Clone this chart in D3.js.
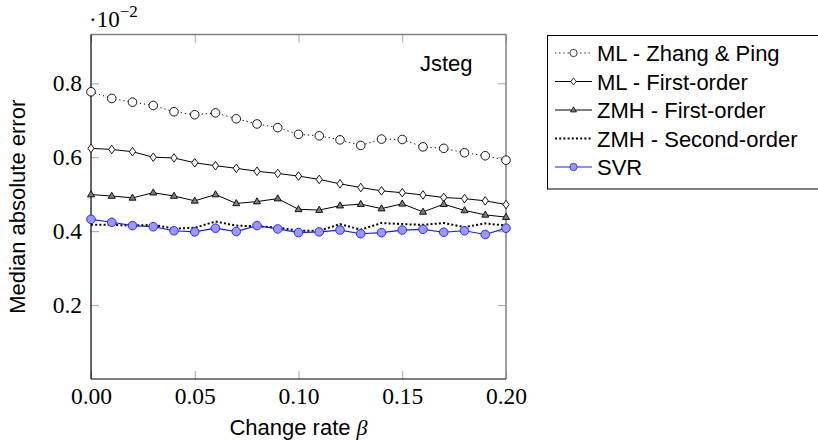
<!DOCTYPE html>
<html>
<head>
<meta charset="utf-8">
<script src="https://cdn.jsdelivr.net/npm/d3@7"></script>
<style>
  body { margin: 0; background: #fff; }
  svg { display: block; }
</style>
</head>
<body>
<div id="chart"></div>
<script>
let w = 818;
let h = 441;

// data (values in units of 10^-2)
let beta = [0.00,0.01,0.02,0.03,0.04,0.05,0.06,0.07,0.08,0.09,0.10,
            0.11,0.12,0.13,0.14,0.15,0.16,0.17,0.18,0.19,0.20];
let zhangPing = [0.777,0.759,0.749,0.740,0.723,0.715,0.720,0.704,0.690,0.680,0.662,
                 0.658,0.647,0.632,0.649,0.648,0.628,0.624,0.612,0.604,0.592];
let mlFirst = [0.624,0.621,0.615,0.600,0.598,0.585,0.577,0.570,0.562,0.556,0.549,
               0.540,0.528,0.518,0.509,0.504,0.498,0.491,0.488,0.482,0.472];
let zmhFirst = [0.499,0.495,0.490,0.504,0.495,0.482,0.499,0.475,0.480,0.488,0.459,
                0.457,0.469,0.473,0.461,0.474,0.452,0.473,0.456,0.444,0.438];
let zmhSecond = [0.417,0.417,0.415,0.417,0.407,0.409,0.426,0.415,0.413,0.410,0.401,
                 0.401,0.419,0.404,0.422,0.419,0.417,0.422,0.411,0.421,0.415];
let svr = [0.432,0.424,0.415,0.412,0.401,0.398,0.408,0.399,0.415,0.406,0.396,
           0.398,0.403,0.393,0.396,0.403,0.405,0.397,0.401,0.391,0.408];

let xTicks = [0, 0.05, 0.10, 0.15, 0.20];
let yTicks = [0.2, 0.4, 0.6, 0.8];
let seriesNames = ["ML - Zhang & Ping", "ML - First-order", "ZMH - First-order", "ZMH - Second-order", "SVR"];

let pLeft = 91, pRight = 506, pTop = 34.5, pBottom = 379;

let viz = d3.select("#chart")
  .append("svg")
  .attr("width", w)
  .attr("height", h)
;

let x = d3.scaleLinear().domain([0, 0.2]).range([pLeft, pRight]);
let y = d3.scaleLinear().domain([0, 0.932]).range([pBottom, pTop]);

// ticks, all four sides, inside
let tickColor = "#a6a6a6";
let tickLen = 8;
let axisB = d3.axisBottom(x).tickValues(xTicks).tickSize(-tickLen).tickFormat(d3.format(".2f")).tickPadding(8);
let axisT = d3.axisTop(x).tickValues(xTicks).tickSize(-tickLen).tickFormat("");
let axisL = d3.axisLeft(y).tickValues(yTicks).tickSize(-tickLen).tickFormat(d3.format(".1f")).tickPadding(9);
let axisR = d3.axisRight(y).tickValues(yTicks).tickSize(-tickLen).tickFormat("");

function styleAxis(g){
  g.select(".domain").remove();
  g.selectAll(".tick line").attr("stroke", tickColor);
  g.selectAll(".tick text")
    .attr("fill", "#000")
    .style("font-family", "'Liberation Serif', 'DejaVu Serif', serif")
    .style("font-size", "23.5px");
}
viz.append("g").attr("transform", "translate(0," + pBottom + ")").call(axisB).call(styleAxis);
viz.append("g").attr("transform", "translate(0," + pTop + ")").call(axisT).call(styleAxis);
viz.append("g").attr("transform", "translate(" + pLeft + ",0)").call(axisL).call(styleAxis);
viz.append("g").attr("transform", "translate(" + pRight + ",0)").call(axisR).call(styleAxis);

// frame
viz.append("line").attr("x1", pLeft).attr("x2", pRight).attr("y1", pTop).attr("y2", pTop).attr("stroke", "#808080").attr("stroke-width", 1.5);
viz.append("line").attr("x1", pRight).attr("x2", pRight).attr("y1", pTop).attr("y2", pBottom).attr("stroke", "#808080").attr("stroke-width", 1.5);
viz.append("line").attr("x1", pLeft).attr("x2", pRight).attr("y1", pBottom).attr("y2", pBottom).attr("stroke", "#000").attr("stroke-width", 1.2);
viz.append("line").attr("x1", pLeft).attr("x2", pLeft).attr("y1", pTop).attr("y2", pBottom).attr("stroke", "#000").attr("stroke-width", 1.2);

// series definitions
let series = [
  {name: seriesNames[0], values: zhangPing, stroke: "#000", width: 1, dash: "1.2,3", mark: "circle", fill: "#fff", mstroke: "#000"},
  {name: seriesNames[1], values: mlFirst, stroke: "#000", width: 1, dash: null, mark: "diamond", fill: "#fff", mstroke: "#000"},
  {name: seriesNames[2], values: zmhFirst, stroke: "#000", width: 1, dash: null, mark: "triangle", fill: "#7f7f7f", mstroke: "#000"},
  {name: seriesNames[3], values: zmhSecond, stroke: "#000", width: 2, dash: "2,2.2", mark: null},
  {name: seriesNames[4], values: svr, stroke: "#1a1aff", width: 1.2, dash: null, mark: "circle", fill: "#9999ff", mstroke: "#1a1aff"}
];

let markPath = {
  circle: d3.symbol().type(d3.symbolCircle).size(Math.PI * 4.3 * 4.3)(),
  diamond: "M0,-4.3L3.1,0L0,4.3L-3.1,0Z",
  triangle: "M0,-3.8L3.5,2.3L-3.5,2.3Z"
};

let line = d3.line()
  .x(function(d, i){ return x(beta[i]); })
  .y(function(d){ return y(d); });

let plot = viz.append("g");
series.forEach(function(s){
  let g = plot.append("g");
  g.append("path")
    .attr("d", line(s.values))
    .attr("fill", "none")
    .attr("stroke", s.stroke)
    .attr("stroke-width", s.width)
    .attr("stroke-dasharray", s.dash)
  ;
  if (s.mark) {
    g.selectAll(".pt").data(s.values).enter()
      .append("path")
      .attr("class", "pt")
      .attr("d", markPath[s.mark])
      .attr("transform", function(d, i){ return "translate(" + x(beta[i]) + "," + y(d) + ")"; })
      .attr("fill", s.fill)
      .attr("stroke", s.mstroke)
      .attr("stroke-width", 0.9)
    ;
  }
});

// exponent label
let expo = viz.append("text")
  .attr("x", 89).attr("y", 27)
  .style("font-family", "'Liberation Serif', 'DejaVu Serif', serif")
  .style("font-size", "23px")
  .text("·10");
expo.append("tspan").attr("dy", -10).style("font-size", "17px").text("−2");

// plot label
viz.append("text")
  .attr("x", 420).attr("y", 71)
  .style("font-family", "'Liberation Sans', Arial, sans-serif")
  .style("font-size", "22px")
  .text("Jsteg");

// axis titles
viz.append("text")
  .attr("x", (pLeft + pRight) / 2).attr("y", 435)
  .attr("text-anchor", "middle")
  .style("font-family", "'Liberation Sans', Arial, sans-serif")
  .style("font-size", "22px")
  .text("Change rate ")
  .append("tspan")
  .style("font-family", "'Liberation Serif', 'DejaVu Serif', serif")
  .style("font-style", "italic")
  .text("β");

viz.append("text")
  .attr("transform", "translate(25," + ((pTop + pBottom) / 2) + ") rotate(-90)")
  .attr("text-anchor", "middle")
  .style("font-family", "'Liberation Sans', Arial, sans-serif")
  .style("font-size", "22px")
  .text("Median absolute error");

// legend
let legend = viz.append("g");
legend.append("rect")
  .attr("x", 547.5).attr("y", 35.5)
  .attr("width", 300).attr("height", 153.5)
  .attr("fill", "#fff")
  .attr("stroke", "#000")
  .attr("stroke-width", 1);

series.forEach(function(s, i){
  let cy = 53 + i * 28.5;
  let g = legend.append("g");
  g.append("line")
    .attr("x1", 555).attr("x2", 592)
    .attr("y1", cy).attr("y2", cy)
    .attr("stroke", s.stroke)
    .attr("stroke-width", s.width)
    .attr("stroke-dasharray", s.dash);
  if (s.mark) {
    g.append("path")
      .attr("d", markPath[s.mark])
      .attr("transform", "translate(573.5," + cy + ") scale(0.85)")
      .attr("fill", s.fill)
      .attr("stroke", s.mstroke)
      .attr("stroke-width", 0.9);
  }
  g.append("text")
    .attr("x", 597).attr("y", cy + 8)
    .style("font-family", "'Liberation Sans', Arial, sans-serif")
    .style("font-size", "22px")
    .text(s.name);
});
</script>
</body>
</html>
